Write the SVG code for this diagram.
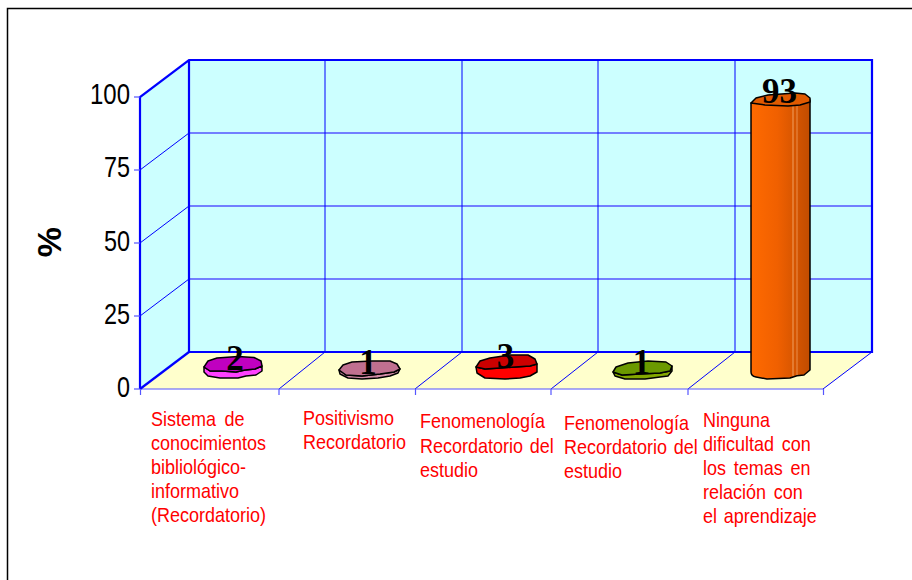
<svg xmlns="http://www.w3.org/2000/svg" width="912" height="580" viewBox="0 0 912 580">
<defs>
<style>
.lbl{font-family:"Liberation Sans",Arial,sans-serif;font-size:20px;fill:#FF0000;}
.ax{font-family:"Liberation Sans",Arial,sans-serif;font-size:30px;fill:#000;}
.val{font-family:"Liberation Serif","Times New Roman",serif;font-size:35px;font-weight:bold;fill:#000;text-anchor:middle;}
.thick{stroke:#0000FF;stroke-width:2.2;fill:none;}
.grid{stroke:#5555FF;stroke-width:1.4;fill:none;}
.vgrid{stroke:#0000FF;stroke-width:1;fill:none;}
.tick{stroke:#5555FF;stroke-width:1.2;fill:none;}
.blob{stroke:#000;stroke-width:1.5;stroke-linejoin:round;}
</style>
<linearGradient id="barGrad" x1="0" y1="0" x2="1" y2="0">
<stop offset="0" stop-color="#FF6A00"/>
<stop offset="0.45" stop-color="#F06000"/>
<stop offset="1" stop-color="#C04C00"/>
</linearGradient>
</defs>
<rect width="912" height="580" fill="#FFFFFF"/>
<path d="M7.5,580 L7.5,8.5 L912,8.5" fill="none" stroke="#000" stroke-width="1.5"/>

<g id="plot-area">
<polygon points="189,60 872,60 872,352 189,352" fill="#CCFFFF"/>
<polygon points="140,97 189,60 189,352 140,389" fill="#CCFFFF"/>
<polygon points="140,389 189,352 872,352 823,389" fill="#FFFFCC"/>
<g id="gridlines">
<line class="grid" x1="189" y1="133" x2="872" y2="133"/>
<line class="grid" x1="189" y1="206" x2="872" y2="206"/>
<line class="grid" x1="189" y1="279" x2="872" y2="279"/>
<line class="vgrid" x1="140" y1="170" x2="189" y2="133"/>
<line class="vgrid" x1="140" y1="243" x2="189" y2="206"/>
<line class="vgrid" x1="140" y1="316" x2="189" y2="279"/>
<line class="vgrid" x1="325" y1="60" x2="325" y2="352"/>
<line class="vgrid" x1="462" y1="60" x2="462" y2="352"/>
<line class="vgrid" x1="598" y1="60" x2="598" y2="352"/>
<line class="vgrid" x1="735" y1="60" x2="735" y2="352"/>
<line class="vgrid" x1="279" y1="389" x2="325" y2="352"/>
<line class="vgrid" x1="415" y1="389" x2="462" y2="352"/>
<line class="vgrid" x1="551" y1="389" x2="598" y2="352"/>
<line class="vgrid" x1="688" y1="389" x2="735" y2="352"/>
<line class="tick" x1="140" y1="389" x2="823" y2="389"/>
</g>
<g id="frame-edges">
<polyline class="thick" points="140,389 140,97 189,60 872,60 872,352 189,352 189,60"/>
<line class="thick" x1="140" y1="389" x2="189" y2="352"/>
<line class="vgrid" x1="872" y1="352" x2="823" y2="389" stroke-width="1.5"/>
</g>
<g id="ticks">
<line class="tick" x1="134" y1="97" x2="140" y2="97"/>
<line class="tick" x1="134" y1="170" x2="140" y2="170"/>
<line class="tick" x1="134" y1="243" x2="140" y2="243"/>
<line class="tick" x1="134" y1="316" x2="140" y2="316"/>
<line class="tick" x1="134" y1="389" x2="140" y2="389"/>
<line class="tick" x1="140.5" y1="389" x2="140.5" y2="395"/>
<line class="tick" x1="279" y1="389" x2="279" y2="395"/>
<line class="tick" x1="415.5" y1="389" x2="415.5" y2="395"/>
<line class="tick" x1="551" y1="389" x2="551" y2="395"/>
<line class="tick" x1="688" y1="389" x2="688" y2="395"/>
<line class="tick" x1="823.5" y1="389" x2="823.5" y2="395"/>
</g>
</g>

<g id="y-axis">
<text class="ax" x="130" y="104" text-anchor="end" textLength="40" lengthAdjust="spacingAndGlyphs">100</text>
<text class="ax" x="130" y="177" text-anchor="end" textLength="26" lengthAdjust="spacingAndGlyphs">75</text>
<text class="ax" x="130" y="251" text-anchor="end" textLength="26" lengthAdjust="spacingAndGlyphs">50</text>
<text class="ax" x="130" y="324" text-anchor="end" textLength="26" lengthAdjust="spacingAndGlyphs">25</text>
<text class="ax" x="130" y="397" text-anchor="end" textLength="13" lengthAdjust="spacingAndGlyphs">0</text>
<text x="61" y="242" transform="rotate(-90 61 242)" text-anchor="middle" font-family="Liberation Sans, Arial, sans-serif" font-size="34" font-weight="bold" fill="#000">%</text>
</g>

<g id="bar1">
<path class="blob" fill="#FF40FF" d="M204,367 L204,372 L208,376 L220,378 L238,378 L246,376 L256,375 L262,371 L262,366 L255,369 L245,370 L236,372 L222,371 L210,371 Z"/>
<path class="blob" fill="#C000C0" d="M204,367 L208,361 L217,358 L238,356.5 L254,357.5 L261,361 L262,366 L255,369 L245,370 L236,372 L222,371 L210,371 Z"/>
<text class="val" x="235" y="370">2</text>
</g>
<g id="bar2">
<path class="blob" fill="#D48CA8" d="M339,370 L340,374 L348,378 L362,379 L378,378 L390,376 L398,373 L400,369 L394,372 L380,374 L362,376 L346,375 Z"/>
<path class="blob" fill="#C07090" d="M339,370 L343,365 L352,362 L372,361 L390,361 L397,364 L400,369 L394,372 L380,374 L362,376 L346,375 Z"/>
<text class="val" x="368" y="374">1</text>
</g>
<g id="bar3">
<path class="blob" fill="#FF0000" d="M476,367 L477,373 L485,378 L505,379 L520,378 L530,376 L537,372 L537,364 L530,366 L515,367 L500,368 L485,369 Z"/>
<path class="blob" fill="#CC0000" d="M476,367 L480,361 L490,358 L510,355 L528,355 L535,359 L537,364 L530,366 L515,367 L500,368 L485,369 Z"/>
<text class="val" x="505.5" y="368">3</text>
</g>
<g id="bar4">
<path class="blob" fill="#84A800" d="M613,372 L615,376 L625,379 L645,379 L660,377 L668,376 L672,371 L672,366 L670,371 L660,373 L640,374 L622,375 Z"/>
<path class="blob" fill="#6B9900" d="M613,372 L616,367 L628,363 L648,361 L666,362 L672,366 L670,371 L660,373 L640,374 L622,375 Z"/>
<text class="val" x="641.5" y="374">1</text>
</g>
<g id="bar5">
<path class="blob" fill="url(#barGrad)" d="M751,103 L751,372 Q751,376 756,377 L767,379 L790,378 Q797,375 804,375 L810,370 L810,100 Z"/>
<line x1="793" y1="106" x2="793" y2="376" stroke="#F0A060" stroke-width="1"/>
<line x1="797" y1="106" x2="797" y2="375" stroke="#F0A060" stroke-width="0.8"/>
<path class="blob" fill="#E05A00" d="M751,103 L756,98 L768,95 L795,93 L805,94 L810,98 L810,102 L800,105 L788,106 L765,105 Z"/>
<text class="val" x="779.5" y="103">93</text>
</g>

<g id="category-labels">
<g transform="translate(151,0) scale(0.9,1)">
<text class="lbl" x="0" y="426" word-spacing="4">Sistema de</text>
<text class="lbl" x="0" y="450">conocimientos</text>
<text class="lbl" x="0" y="474">bibliológico-</text>
<text class="lbl" x="0" y="498">informativo</text>
<text class="lbl" x="0" y="522">(Recordatorio)</text>
</g>
<g transform="translate(303,0) scale(0.9,1)">
<text class="lbl" x="0" y="425">Positivismo</text>
<text class="lbl" x="0" y="449">Recordatorio</text>
</g>
<g transform="translate(420,0) scale(0.9,1)">
<text class="lbl" x="0" y="428">Fenomenología</text>
<text class="lbl" x="0" y="453" word-spacing="2">Recordatorio del</text>
<text class="lbl" x="0" y="477">estudio</text>
</g>
<g transform="translate(564,0) scale(0.9,1)">
<text class="lbl" x="0" y="430">Fenomenología</text>
<text class="lbl" x="0" y="454" word-spacing="2">Recordatorio del</text>
<text class="lbl" x="0" y="478">estudio</text>
</g>
<g transform="translate(703,0) scale(0.9,1)">
<text class="lbl" x="0" y="427">Ninguna</text>
<text class="lbl" x="0" y="451" word-spacing="3">dificultad con</text>
<text class="lbl" x="0" y="475" word-spacing="3">los temas en</text>
<text class="lbl" x="0" y="499" word-spacing="3">relación con</text>
<text class="lbl" x="0" y="523" word-spacing="2">el aprendizaje</text>
</g>
</g>
</svg>
